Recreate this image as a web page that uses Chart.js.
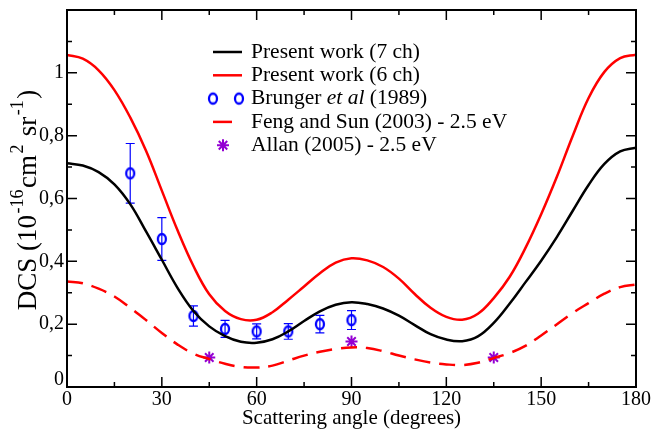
<!DOCTYPE html>
<html>
<head>
<meta charset="utf-8">
<title>DCS vs scattering angle</title>
<script src="https://cdn.jsdelivr.net/npm/chart.js@4/dist/chart.umd.min.js"></script>
<style>
  html, body { margin: 0; padding: 0; background: #fff; }
  canvas { display: block; }
</style>
</head>
<body>
<canvas id="dcs" width="653" height="430"></canvas>
<script>
// Theory curves, sampled every 5 degrees
const angles = [0,5,10,15,20,25,30,35,40,45,50,55,60,65,70,75,80,85,90,95,100,105,110,115,120,125,130,135,140,145,150,155,160,165,170,175,180];
const dcs7ch = [0.712,0.705,0.684,0.645,0.582,0.495,0.405,0.315,0.242,0.193,0.162,0.144,0.141,0.152,0.177,0.210,0.241,0.262,0.270,0.264,0.250,0.227,0.197,0.168,0.151,0.146,0.161,0.204,0.265,0.333,0.402,0.478,0.561,0.643,0.710,0.750,0.762];
const dcs6ch = [1.057,1.045,1.008,0.945,0.858,0.752,0.625,0.498,0.385,0.295,0.242,0.216,0.214,0.238,0.278,0.320,0.362,0.396,0.410,0.403,0.382,0.345,0.296,0.252,0.223,0.214,0.233,0.283,0.350,0.442,0.550,0.670,0.800,0.920,1.003,1.047,1.058];
const fengSun = [0.336,0.330,0.313,0.288,0.252,0.213,0.172,0.135,0.106,0.089,0.074,0.064,0.062,0.068,0.084,0.100,0.112,0.121,0.126,0.124,0.114,0.100,0.088,0.078,0.072,0.070,0.077,0.092,0.108,0.131,0.164,0.200,0.236,0.267,0.297,0.318,0.326];

// Measurements
const brungerAngles = [20,30,40,50,60,70,80,90];
const brungerDcs = [0.680,0.471,0.226,0.185,0.177,0.177,0.200,0.213];
const brungerErr = [0.095,0.068,0.032,0.027,0.024,0.025,0.028,0.030];
const allanAngles = [45,90,135];
const allanDcs = [0.094,0.145,0.094];

// Axis ticks
const xTicks = [0,30,60,90,120,150,180];
const xTickLabels = ['0','30','60','90','120','150','180'];
const xMinorTicks = [15,45,75,105,135,165];
const yTicks = [0,0.2,0.4,0.6,0.8,1];
const yTickLabels = ['0','0,2','0,4','0,6','0,8','1'];
const yMinorTicks = [0.1,0.3,0.5,0.7,0.9,1.1];

const SERIF = '"Liberation Serif", "Times New Roman", serif';
const BLUE = '#0000ff', RED = '#ff0000', PURPLE = '#9400d3';

const toPoints = (xs, ys) => xs.map((x, i) => ({ x: x, y: ys[i] }));

// Open ellipse marker, slightly taller than wide
function makeRing() {
  const cv = document.createElement('canvas');
  cv.width = 14; cv.height = 16;
  const g = cv.getContext('2d');
  g.strokeStyle = BLUE; g.lineWidth = 2.3;
  g.beginPath(); g.ellipse(7, 8, 4.0, 5.0, 0, 0, Math.PI * 2); g.stroke();
  return cv;
}
const ring = makeRing();

const framePlugin = {
  id: 'frame',
  beforeDatasetsDraw(chart) {
    const c = chart.ctx, xs = chart.scales.x, ys = chart.scales.y;
    // error bars for the Brunger data
    c.save();
    c.strokeStyle = BLUE; c.lineWidth = 1.2;
    brungerAngles.forEach((a, i) => {
      const px = xs.getPixelForValue(a);
      const top = ys.getPixelForValue(brungerDcs[i] + brungerErr[i]);
      const bot = ys.getPixelForValue(brungerDcs[i] - brungerErr[i]);
      c.beginPath();
      c.moveTo(px, top); c.lineTo(px, bot);
      c.moveTo(px - 4.5, top); c.lineTo(px + 4.5, top);
      c.moveTo(px - 4.5, bot); c.lineTo(px + 4.5, bot);
      c.stroke();
    });
    c.restore();
  },
  afterDraw(chart) {
    const c = chart.ctx, a = chart.chartArea, xs = chart.scales.x, ys = chart.scales.y;
    c.save();
    // frame
    c.strokeStyle = '#000'; c.lineWidth = 2;
    c.strokeRect(a.left, a.top, a.right - a.left, a.bottom - a.top);
    // inward ticks on all four sides
    c.lineWidth = 1.5;
    c.beginPath();
    const xt = (v, len) => {
      const p = xs.getPixelForValue(v);
      c.moveTo(p, a.bottom); c.lineTo(p, a.bottom - len);
      c.moveTo(p, a.top); c.lineTo(p, a.top + len);
    };
    const yt = (v, len) => {
      const p = ys.getPixelForValue(v);
      c.moveTo(a.left, p); c.lineTo(a.left + len, p);
      c.moveTo(a.right, p); c.lineTo(a.right - len, p);
    };
    xTicks.forEach(v => xt(v, 10));
    xMinorTicks.forEach(v => xt(v, 5));
    yTicks.forEach(v => yt(v, 10));
    yMinorTicks.forEach(v => yt(v, 5));
    c.stroke();

    // tick labels
    c.fillStyle = '#000';
    c.font = '20px ' + SERIF;
    c.textAlign = 'center'; c.textBaseline = 'middle';
    xTicks.forEach((v, i) => c.fillText(xTickLabels[i], xs.getPixelForValue(v), a.bottom + 13));
    c.textAlign = 'right';
    yTicks.forEach((v, i) => c.fillText(yTickLabels[i], a.left - 3, ys.getPixelForValue(v) - (v === 0 ? 7 : 0)));

    // x axis title
    c.textAlign = 'center';
    c.font = '21px ' + SERIF;
    c.fillText('Scattering angle (degrees)', (a.left + a.right) / 2, 418);

    // y axis title with superscripts
    const parts = [['DCS (10', 0], ['-16', 1], ['cm', 0], ['2', 1], [' sr', 0], ['-1', 1], [')', 0]];
    const big = '27px ' + SERIF, small = '18px ' + SERIF;
    let total = 0;
    const widths = parts.map(([t, sup]) => { c.font = sup ? small : big; const w = c.measureText(t).width + (sup ? 3 : 0); total += w; return w; });
    c.translate(29, 200);
    c.rotate(-Math.PI / 2);
    c.textAlign = 'left';
    let x = -total / 2;
    parts.forEach(([t, sup], i) => {
      c.font = sup ? small : big;
      c.fillText(t, x + (sup ? 1.5 : 0), sup ? -11 : 0);
      x += widths[i];
    });
    c.restore();

    // legend
    drawLegend(chart);
  }
};

function drawLegend(chart) {
  const c = chart.ctx, ds = chart.data.datasets;
  const x0 = 213, x1 = 242, tx = 251, y0 = 52, step = 23.3;
  const f = '21.5px ' + SERIF;
  c.save();
  c.font = f;
  c.textBaseline = 'middle'; c.textAlign = 'left'; c.fillStyle = '#000';
  ds.forEach((d, i) => {
    const y = y0 + i * step;
    c.strokeStyle = d.borderColor;
    c.lineWidth = d.borderWidth;
    if (i === 0 || i === 1) {
      c.beginPath(); c.moveTo(x0, y); c.lineTo(x1, y); c.stroke();
    } else if (i === 3) {
      c.beginPath(); c.moveTo(x0, y); c.lineTo(x0 + 19, y); c.stroke();
    } else if (i === 2) {
      c.drawImage(ring, x0 - 7, y - 8);
      c.drawImage(ring, x1 - 3 - 7, y - 8);
    } else if (i === 4) {
      c.lineWidth = 2;
      const r = 6, cx = x0 + 10;
      c.beginPath();
      for (let k = 0; k < 4; k++) {
        const ang = k * Math.PI / 4;
        c.moveTo(cx - r * Math.cos(ang), y - r * Math.sin(ang));
        c.lineTo(cx + r * Math.cos(ang), y + r * Math.sin(ang));
      }
      c.stroke();
    }
    if (i === 2) {
      let x = tx;
      c.font = f; c.fillText('Brunger ', x, y); x += c.measureText('Brunger ').width;
      c.font = 'italic ' + f; c.fillText('et al', x, y); x += c.measureText('et al').width;
      c.font = f; c.fillText(' (1989)', x, y);
    } else {
      c.fillText(d.label, tx, y);
    }
  });
  c.restore();
}

new Chart(document.getElementById('dcs').getContext('2d'), {
  type: 'line',
  data: {
    datasets: [
      { label: 'Present work (7 ch)', data: toPoints(angles, dcs7ch), borderColor: '#000', borderWidth: 2.5,
        pointRadius: 0, tension: 0.4, fill: false },
      { label: 'Present work (6 ch)', data: toPoints(angles, dcs6ch), borderColor: RED, borderWidth: 2.5,
        pointRadius: 0, tension: 0.4, fill: false },
      { label: 'Brunger et al (1989)', data: toPoints(brungerAngles, brungerDcs), showLine: false,
        borderColor: BLUE, borderWidth: 2, pointStyle: ring, pointRadius: 5 },
      { label: 'Feng and Sun (2003) - 2.5 eV', data: toPoints(angles, fengSun), borderColor: RED, borderWidth: 2.5,
        borderDash: [16, 9], pointRadius: 0, tension: 0.4, fill: false },
      { label: 'Allan (2005) - 2.5 eV', data: toPoints(allanAngles, allanDcs), showLine: false,
        borderColor: PURPLE, backgroundColor: PURPLE, borderWidth: 2, pointStyle: 'star', pointRadius: 6 }
    ]
  },
  options: {
    responsive: false,
    animation: false,
    devicePixelRatio: 1,
    events: [],
    layout: { padding: { left: 67, right: 17, top: 10, bottom: 43 } },
    scales: {
      x: { type: 'linear', min: 0, max: 180, display: false },
      y: { type: 'linear', min: 0, max: 1.2, display: false }
    },
    plugins: { legend: { display: false }, tooltip: { enabled: false } }
  },
  plugins: [framePlugin]
});
</script>
</body>
</html>
